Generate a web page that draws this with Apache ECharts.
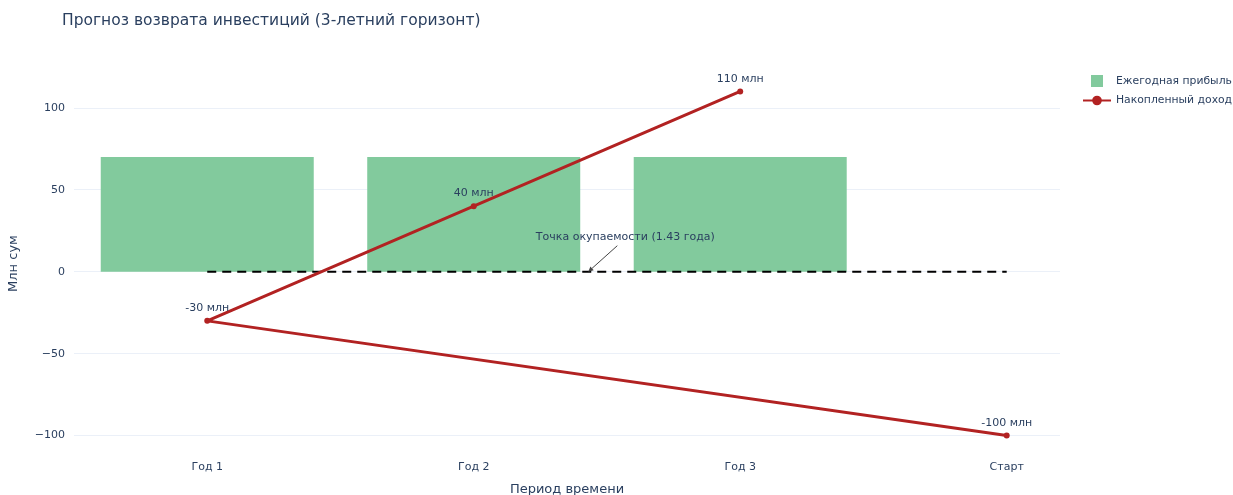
<!DOCTYPE html>
<html><head><meta charset="utf-8">
<script src="https://cdn.jsdelivr.net/npm/echarts@6/dist/echarts.min.js"></script>
<style>html,body{margin:0;padding:0;background:#fff}#c{width:1233px;height:495px}</style>
</head><body><div id="c"></div>
<script>
const categories = ['Год 1', 'Год 2', 'Год 3', 'Старт'];
const annualProfit = [70, 70, 70, null];
const lineCategories = ['Старт', 'Год 1', 'Год 2', 'Год 3'];
const cumulative = [-100, -30, 40, 110];
const yTicks = [-100, -50, 0, 50, 100];
const paybackYears = 1.43;
const breakEvenFrom = 'Год 1';
const breakEvenTo = 'Старт';

const FONT = 'DejaVu Sans';
const TXT = '#2a3f5f';

const barData = categories.map((c, i) => [i, annualProfit[i]]).filter(d => d[1] != null);
const lineData = lineCategories.map((c, i) => [categories.indexOf(c), cumulative[i]]);
const zeroLine = [[categories.indexOf(breakEvenFrom), 0], [categories.indexOf(breakEvenTo), 0]];

const chart = echarts.init(document.getElementById('c'));
chart.setOption({
  animation: false,
  backgroundColor: '#fff',
  title: {
    text: 'Прогноз возврата инвестиций (3-летний горизонт)',
    left: 57, top: 8,
    textStyle: {fontFamily: FONT, fontSize: 15.5, fontWeight: 'normal', color: TXT}
  },
  legend: {
    orient: 'vertical', left: 1077, top: 70, itemGap: 8,
    itemWidth: 28, itemHeight: 12,
    textStyle: {fontFamily: FONT, fontSize: 10.8, color: TXT},
    data: [
      {name: 'Ежегодная прибыль', icon: 'path://M0,0H10V10H0Z'},
      {name: 'Накопленный доход'}
    ]
  },
  grid: {left: 74, right: 173, top: 75, bottom: 43, outerBoundsMode: 'none', containLabel: false},
  xAxis: {
    type: 'value', min: -0.5, max: 3.2,
    name: 'Период времени', nameLocation: 'middle', nameGap: 31,
    nameTextStyle: {fontFamily: FONT, fontSize: 13, color: TXT},
    axisLine: {show: false}, axisTick: {show: false, customValues: [0, 1, 2, 3]},
    splitLine: {show: false},
    axisLabel: {
      customValues: [0, 1, 2, 3], margin: 10,
      formatter: v => categories[Math.round(v)],
      fontFamily: FONT, fontSize: 11, color: TXT
    }
  },
  yAxis: {
    type: 'value', min: -110, max: 120,
    name: 'Млн сум', nameLocation: 'middle', nameGap: 54, nameRotate: 90,
    nameTextStyle: {fontFamily: FONT, fontSize: 13, color: TXT},
    axisLine: {show: false},
    axisTick: {show: false, customValues: yTicks},
    splitLine: {show: true, lineStyle: {color: '#EBF0F8', width: 1}},
    axisLabel: {
      customValues: yTicks, margin: 9,
      formatter: v => String(v).replace('-', '\u2212'),
      fontFamily: FONT, fontSize: 11, color: TXT
    }
  },
  series: [
    {
      name: 'Ежегодная прибыль', type: 'bar', data: barData,
      barWidth: 213, itemStyle: {color: '#82CA9D'}, z: 1
    },
    {
      name: 'breakeven', type: 'line', data: zeroLine, symbol: 'none',
      lineStyle: {color: '#000', width: 2, type: [9, 6]}, z: 3, silent: true
    },
    {
      name: 'Накопленный доход', type: 'line', data: lineData,
      symbol: 'circle', symbolSize: 6,
      itemStyle: {color: '#B22222'},
      lineStyle: {color: '#B22222', width: 3},
      label: {
        show: true, position: 'top', distance: 4,
        formatter: p => p.value[1] + ' млн',
        fontFamily: FONT, fontSize: 11, color: TXT
      },
      z: 4
    },
    {
      name: 'annotation', type: 'custom', clip: false, silent: true, z: 5,
      data: [[paybackYears, 0]],
      renderItem: (params, api) => {
        const p = api.coord([api.value(0), api.value(1)]);
        const tx = p[0] + 29, ty = p[1] - 26;
        const ang = Math.atan2(p[1] - ty, p[0] - tx);
        const L = 5, W = 2.5;
        const bx = p[0] - L * Math.cos(ang), by = p[1] - L * Math.sin(ang);
        const nx = -Math.sin(ang) * W, ny = Math.cos(ang) * W;
        return {type: 'group', children: [
          {type: 'line', shape: {x1: tx, y1: ty, x2: bx, y2: by}, style: {stroke: '#444', lineWidth: 1}},
          {type: 'polygon', shape: {points: [[p[0], p[1]], [bx + nx, by + ny], [bx - nx, by - ny]]}, style: {fill: '#444'}},
          {type: 'text', x: p[0] + 37, y: p[1] - 35, style: {
            text: 'Точка окупаемости (' + paybackYears + ' года)',
            align: 'center', verticalAlign: 'middle',
            fontFamily: FONT, fontSize: 11, fill: TXT
          }}
        ]};
      }
    }
  ]
});
</script></body></html>
